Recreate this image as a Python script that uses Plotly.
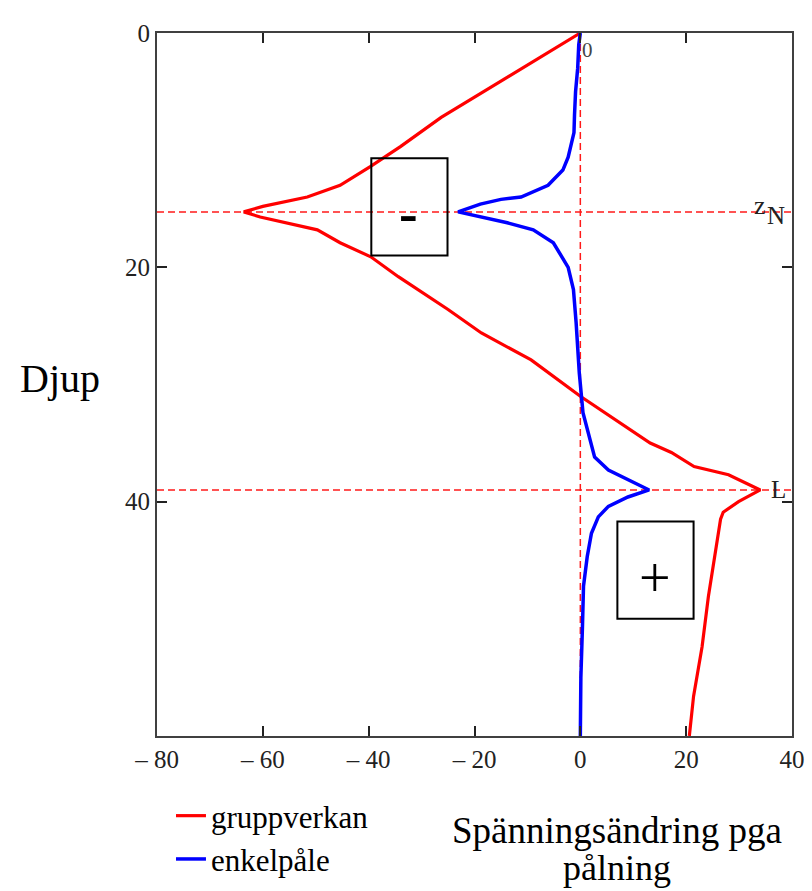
import plotly.graph_objects as go

# Depth profile of stress change due to piling
# gruppverkan (group effect) and enkelpåle (single pile)
grupp_djup = [0, 7.2, 9.7, 11.4, 13.0, 14.0, 14.8, 15.27, 15.7, 16.8, 17.9, 19.1,
              20.8, 23.6, 25.6, 27.9, 31.0, 35.0, 35.8, 37.0, 37.7, 39.0, 40.0,
              40.9, 41.5, 44.4, 48.1, 52.4, 56.6, 60.0]
grupp_varde = [0, -26.3, -34.0, -39.7, -45.4, -51.6, -60.0, -63.6, -60.5, -49.7,
               -45.4, -39.6, -34.4, -25.0, -18.7, -9.3, 0.0, 13.2, 17.2, 21.5,
               28.0, 34.0, 29.9, 27.0, 26.5, 25.5, 24.2, 23.0, 21.4, 20.6]

enkel_djup = [0, 1, 3, 5, 7, 8.5, 10.6, 11.7, 13.0, 14.0, 14.2, 14.6, 15.27, 15.7,
              16.2, 16.8, 17.9, 20.0, 21.9, 24.7, 29.0, 32.4, 34.1, 36.2, 37.3,
              38.1, 39.0, 39.6, 40.4, 41.3, 42.7, 44.7, 47.2, 50.7, 55.0, 60.0]
enkel_varde = [0, -0.3, -0.5, -0.9, -1.1, -1.2, -2.3, -3.3, -6.1, -11.2, -15.0,
               -18.9, -23.1, -18.9, -13.8, -8.9, -5.1, -2.3, -1.3, -0.8, -0.2,
               0.5, 1.5, 2.7, 5.3, 9.0, 13.0, 9.0, 5.3, 3.4, 2.1, 1.3, 0.6, 0.4,
               0.1, 0.0]

# Marker levels
z_N = 15.27
L = 39.0
x_marker = 0

x_range = [-80, 40]
y_range = [60, 0]
x_ticks = [-80, -60, -40, -20, 0, 20, 40]
x_ticktext = ["\u2013 80", "\u2013 60", "\u2013 40", "\u2013 20", "0", "20", "40"]
y_ticks = [0, 20, 40]
y_ticktext = ["0", "20", "40"]

SERIF = "Liberation Serif, Times New Roman, serif"
dash_style = dict(color="#ff1a1a", width=1.5, dash="7px,4px")

fig = go.Figure()

# Dashed marker lines
fig.add_trace(go.Scatter(x=x_range, y=[z_N, z_N], mode="lines", line=dash_style,
                         showlegend=False, hoverinfo="skip"))
fig.add_trace(go.Scatter(x=x_range, y=[L, L], mode="lines", line=dash_style,
                         showlegend=False, hoverinfo="skip"))
fig.add_trace(go.Scatter(x=[x_marker, x_marker], y=[0, 60], mode="lines",
                         line=dash_style, showlegend=False, hoverinfo="skip"))

fig.add_trace(go.Scatter(x=grupp_varde, y=grupp_djup, mode="lines",
                         name="gruppverkan", legendgroup="g1",
                         line=dict(color="#ff0000", width=3.2)))
fig.add_trace(go.Scatter(x=enkel_varde, y=enkel_djup, mode="lines",
                         name="enkelpåle", legendgroup="g2",
                         line=dict(color="#0000ff", width=3.5)))

axis_common = dict(
    showline=True, linecolor="#404040", linewidth=2, mirror="allticks",
    ticks="inside", ticklen=10, tickwidth=2, tickcolor="#222222",
    showgrid=False, zeroline=False,
    tickfont=dict(family=SERIF, size=25, color="#222222"),
)

fig.update_xaxes(range=x_range, tickvals=x_ticks, ticktext=x_ticktext,
                 **axis_common)
fig.update_yaxes(range=y_range, tickvals=y_ticks, ticktext=y_ticktext,
                 **axis_common)

# Sign boxes
fig.add_shape(type="rect", xref="x", yref="y", x0=-39.5, x1=-25.1, y0=10.7, y1=19.0,
              line=dict(color="black", width=2))
fig.add_shape(type="rect", xref="x", yref="y", x0=7.0, x1=21.4, y0=41.7, y1=50.0,
              line=dict(color="black", width=2))

annotations = [
    dict(x=-32.5, y=15.4, xref="x", yref="y", text="<b>-</b>", showarrow=False,
         xanchor="center", font=dict(family=SERIF, size=56, color="black")),
    dict(x=14.2, y=46.5, xref="x", yref="y", text="+", showarrow=False,
         xanchor="center", yanchor="middle",
         font=dict(family=SERIF, size=56, color="black")),
    dict(x=x_marker, y=0, xref="x", yref="y", text="0", showarrow=False,
         xanchor="left", yanchor="top", xshift=0, yshift=-3,
         font=dict(family=SERIF, size=21, color="#444444")),
    dict(x=40, y=z_N, xref="x", yref="y", text="z", showarrow=False,
         xanchor="right", yanchor="middle", xshift=-24, yshift=6,
         font=dict(family=SERIF, size=26, color="#222222")),
    dict(x=40, y=z_N, xref="x", yref="y", text="N", showarrow=False,
         xanchor="right", yanchor="middle", xshift=-5, yshift=-4,
         font=dict(family=SERIF, size=25, color="#222222")),
    dict(x=40, y=L, xref="x", yref="y", text="L", showarrow=False,
         xanchor="right", yanchor="middle", xshift=-4, yshift=0,
         font=dict(family=SERIF, size=25, color="#222222")),
    dict(x=-0.153, y=0.509, xref="paper", yref="paper", text="Djup",
         xanchor="center", yanchor="middle",
         showarrow=False, font=dict(family=SERIF, size=40, color="black")),
    dict(x=0.724, y=-0.1351, xref="paper", yref="paper",
         text="Spänningsändring pga", showarrow=False,
         xanchor="center", yanchor="middle",
         font=dict(family=SERIF, size=37, color="black")),
    dict(x=0.724, y=-0.1878, xref="paper", yref="paper",
         text="pålning", showarrow=False,
         xanchor="center", yanchor="middle",
         font=dict(family=SERIF, size=36, color="black")),
]

fig.update_layout(
    width=812, height=891,
    margin=dict(l=157, r=20, t=33, b=155, pad=0, autoexpand=False),
    paper_bgcolor="white", plot_bgcolor="white",
    annotations=annotations,
    legend=dict(x=0.022, y=-0.0754, xanchor="left", yanchor="top",
                traceorder="grouped", tracegroupgap=0,
                font=dict(family=SERIF, size=31, color="black"),
                bgcolor="rgba(0,0,0,0)"),
)

fig.write_html("out.html")
